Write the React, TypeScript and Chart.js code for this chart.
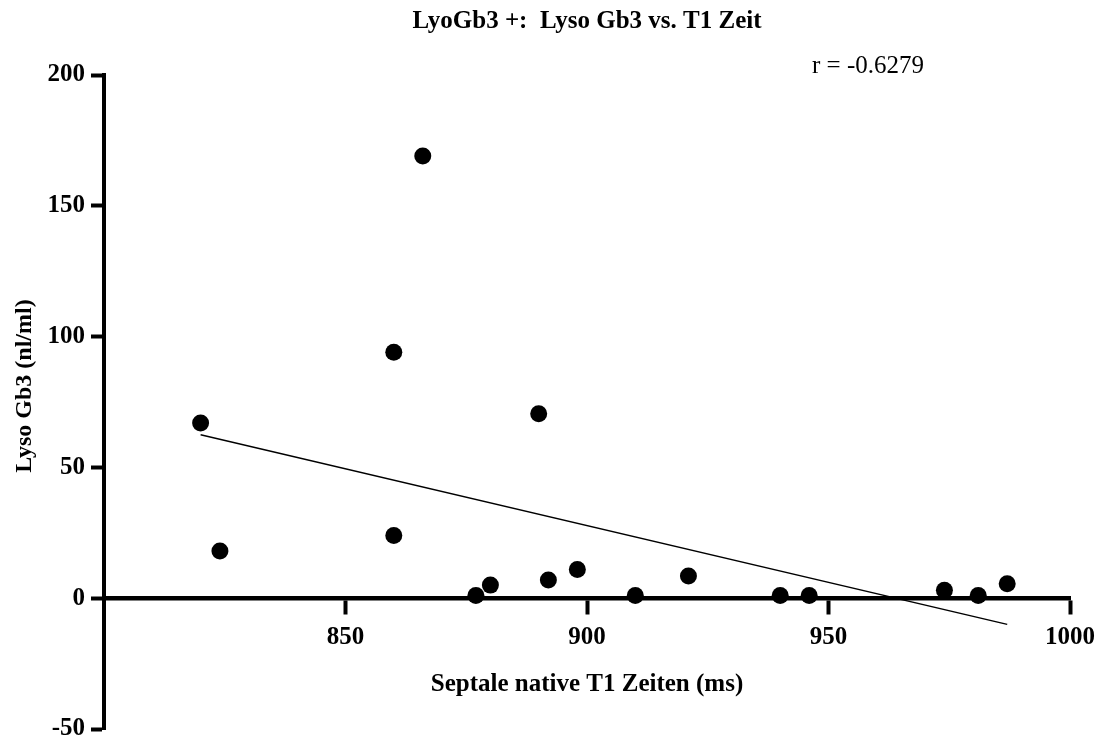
import { useEffect, useRef } from "react";
import { Chart, registerables } from "chart.js";

Chart.register(...registerables);

// Data
const t1Times = [820, 824, 860, 860, 866, 877, 880, 890, 892, 898, 910, 921, 940, 946, 974, 981, 987];
const lysoGb3 = [67, 18, 94, 24, 169, 1, 5, 70.5, 7, 11, 1, 8.5, 1, 1, 3, 1, 5.5];
const fitX = [820, 987];
const fitY = [62.5, -10];
const xTickValues = [850, 900, 950, 1000];
const yTickValues = [-50, 0, 50, 100, 150, 200];
const chartTitle = "LyoGb3 +:  Lyso Gb3 vs. T1 Zeit";
const xTitle = "Septale native T1 Zeiten (ms)";
const yTitle = "Lyso Gb3 (nl/ml)";
const rLabel = "r = -0.6279";

const serif = "'Liberation Serif', 'Times New Roman', Times, serif";
const black = "#000000";

export default function App() {
  const ref = useRef<HTMLCanvasElement>(null);

  useEffect(() => {
    document.body.style.margin = "0";
    const canvas = ref.current;
    if (!canvas) return;

    const annot = {
      id: "annot",
      afterDraw(chart: any) {
        const c = chart.ctx;
        const area = chart.chartArea;
        c.save();
        c.fillStyle = black;
        // correlation label
        c.font = `25px ${serif}`;
        c.textAlign = "left";
        c.textBaseline = "middle";
        c.fillText(rLabel, area.left + 708, area.top - 9);
        // y-axis title (rotated)
        c.font = `bold 24px ${serif}`;
        c.textAlign = "center";
        c.translate(25, (area.top + area.bottom) / 2 - 16);
        c.rotate(-Math.PI / 2);
        c.fillText(yTitle, 0, 0);
        c.restore();
      },
    };

    const chart = new Chart(canvas, {
      type: "scatter",
      data: {
        datasets: [
          {
            type: "scatter",
            data: t1Times.map((x, i) => ({ x, y: lysoGb3[i] })),
            backgroundColor: black,
            borderColor: black,
            borderWidth: 0,
            pointRadius: 8.5,
            pointHoverRadius: 8.5,
          },
          {
            type: "line",
            data: fitX.map((x, i) => ({ x, y: fitY[i] })),
            borderColor: black,
            borderWidth: 1.5,
            pointRadius: 0,
            fill: false,
            showLine: true,
          } as any,
        ],
      },
      options: {
        animation: false,
        responsive: false,
        maintainAspectRatio: false,
        layout: { padding: { left: 0, right: 30, top: 0, bottom: 13 } },
        plugins: {
          legend: { display: false },
          tooltip: { enabled: false },
          title: {
            display: true,
            text: chartTitle,
            fullSize: false,
            color: black,
            font: { family: serif, size: 25, weight: "bold", lineHeight: 1.2 },
            padding: { top: 7, bottom: 38 },
          },
        },
        scales: {
          x: {
            type: "linear",
            position: { y: 0 } as any,
            min: 800,
            max: 1000,
            afterBuildTicks: (s: any) => {
              s.ticks = xTickValues.map((v) => ({ value: v }));
            },
            afterFit: (s: any) => {
              s.paddingLeft = 0;
              s.paddingRight = 0;
            },
            ticks: {
              color: black,
              padding: 10,
              font: { family: serif, size: 25, weight: "bold", lineHeight: 1.2 },
              callback: (v: any) => String(v),
            },
            grid: {
              drawOnChartArea: false,
              drawTicks: true,
              tickLength: 14,
              tickWidth: 4,
              tickColor: black,
            },
            border: { display: true, width: 4.5, color: black },
            title: {
              display: true,
              text: xTitle,
              color: black,
              font: { family: serif, size: 25, weight: "bold", lineHeight: 1.2 },
              padding: { top: 7, bottom: 7 },
            },
          },
          y: {
            type: "linear",
            position: "left",
            min: -50,
            max: 200,
            afterBuildTicks: (s: any) => {
              s.ticks = yTickValues.map((v) => ({ value: v }));
            },
            afterFit: (s: any) => {
              s.width = 104;
              s.paddingTop = 0;
              s.paddingBottom = 0;
            },
            ticks: {
              color: black,
              padding: 6,
              font: { family: serif, size: 25, weight: "bold", lineHeight: 1 },
              callback: (v: any) => String(v),
            },
            grid: {
              drawOnChartArea: false,
              drawTicks: true,
              tickLength: 13,
              tickWidth: 4,
              tickColor: black,
            },
            border: { display: true, width: 4, color: black },
            title: { display: false },
          },
        },
      },
      plugins: [annot],
    });

    return () => chart.destroy();
  }, []);

  return (
    <div style={{ width: 1100, height: 742 }}>
      <canvas ref={ref} width={1100} height={742} style={{ display: "block" }} />
    </div>
  );
}
